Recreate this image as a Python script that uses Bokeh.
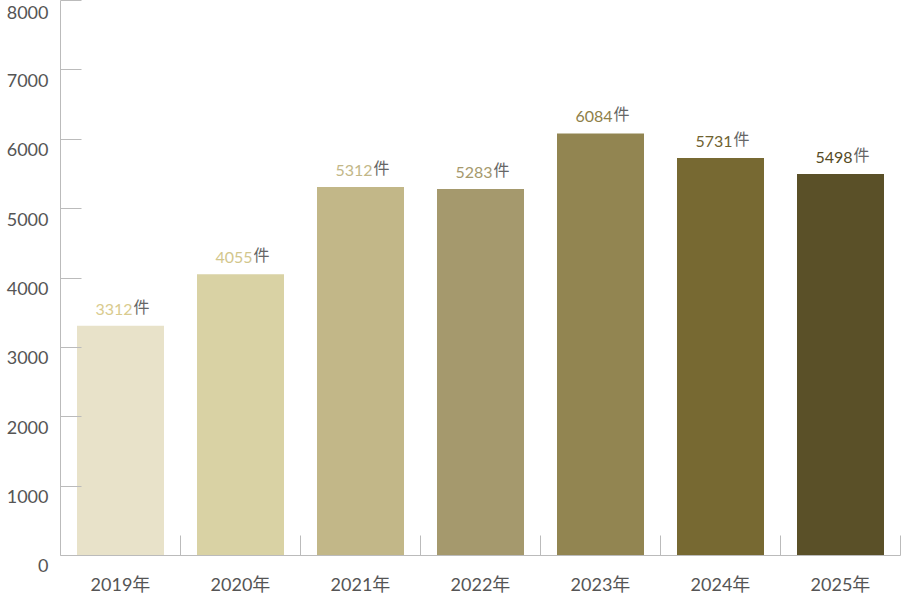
import numpy as np
from bokeh.plotting import figure
from bokeh.models import ColumnDataSource, Range1d, FixedTicker
from bokeh.core.properties import value
from bokeh.embed import file_html
from bokeh.resources import INLINE

years = ["2019年", "2020年", "2021年", "2022年", "2023年", "2024年", "2025年"]
counts = [3312, 4055, 5312, 5283, 6084, 5731, 5498]
bar_colors = ["#e8e2c9", "#d9d2a4", "#c2b788", "#a5996d", "#928551", "#776932", "#5a5028"]
label_colors = ["#d9cb8e", "#d2c68c", "#c2b788", "#a5996d", "#8e8048", "#6f6230", "#554b25"]
y_ticks = [0, 1000, 2000, 3000, 4000, 5000, 6000, 7000, 8000]

FONT = "Lato, 'Noto Sans CJK JP', sans-serif"

xs = np.arange(len(years)) + 0.5
src = ColumnDataSource(dict(
    x=xs, top=counts, color=bar_colors, lcolor=label_colors,
    num=[str(c) for c in counts], unit=["件"] * len(counts),
))

p = figure(width=901, height=597, output_backend="svg", toolbar_location=None,
           x_range=Range1d(0, len(years)), y_range=Range1d(0, 8000),
           min_border_left=60, min_border_right=1, min_border_top=0, min_border_bottom=41)
p.outline_line_color = None
p.grid.visible = False
p.background_fill_color = "white"
p.border_fill_color = "white"

p.vbar(x="x", top="top", width=0.725, fill_color="color", line_color=None, source=src)

p.text(x="x", y="top", text="num", source=src, text_color="lcolor",
       text_align="right", text_baseline="bottom", x_offset=12, y_offset=-11,
       text_font=value(FONT), text_font_size="16px")
p.text(x="x", y="top", text="unit", source=src, text_color="#666666",
       text_align="left", text_baseline="bottom", x_offset=13, y_offset=-10,
       text_font=value(FONT), text_font_size="16px")

# y axis: inward ticks, labels sitting just below each tick (two-line label, first line empty);
# the top label is kept on one line since it is held inside the canvas anyway
ya = p.yaxis[0]
ya.ticker = FixedTicker(ticks=y_ticks)
ya.major_label_overrides = {t: ("\n" + str(t)) if t != max(y_ticks) else str(t) for t in y_ticks}
ya.axis_line_color = "#bbbbbb"
ya.major_tick_line_color = "#bbbbbb"
ya.major_tick_in = 21
ya.major_tick_out = 0
ya.minor_tick_line_color = None
ya.major_label_standoff = 12
ya.major_label_text_line_height = 0.9
ya.major_label_text_font = FONT
ya.major_label_text_font_size = "18px"
ya.major_label_text_color = "#555555"

# x axis
xa = p.xaxis[0]
xa.ticker = FixedTicker(ticks=list(xs), minor_ticks=list(range(1, len(years) + 1)))
xa.major_label_overrides = {float(x): y for x, y in zip(xs, years)}
xa.axis_line_color = "#bbbbbb"
xa.major_tick_line_color = None
xa.minor_tick_line_color = "#bbbbbb"
xa.minor_tick_in = 20
xa.minor_tick_out = 0
xa.major_label_standoff = 11
xa.major_label_text_font = FONT
xa.major_label_text_font_size = "18px"
xa.major_label_text_color = "#555555"

open("out.html", "w").write(file_html(p, INLINE))
